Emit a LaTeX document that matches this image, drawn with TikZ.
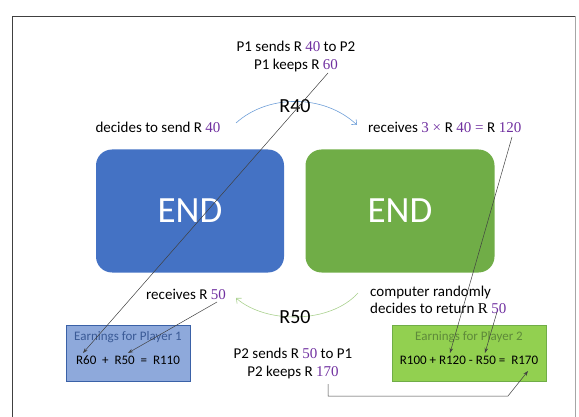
\documentclass[tikz,border=0pt]{standalone}
\usepackage{fontspec}
\setmainfont{Carlito}
\newfontfamily\numfont{Liberation Serif}
\usetikzlibrary{arrows.meta}
\definecolor{numc}{HTML}{7030A0}
\definecolor{bigblue}{HTML}{4472C4}
\definecolor{biggreen}{HTML}{70AD47}
\definecolor{pOnefill}{HTML}{8EA9DB}
\definecolor{pOnetext}{HTML}{3A5A96}
\definecolor{pTwofill}{HTML}{92D050}
\definecolor{pTwotext}{HTML}{5E8A3A}
\definecolor{arcblue}{HTML}{6F9FD8}
\definecolor{arcgreen}{HTML}{A9D18E}
\definecolor{linegray}{HTML}{404040}
\newcommand\nm[1]{{\numfont\color{numc}#1}}
\tikzset{
  txt/.style={inner sep=0pt, font=\fontsize{15}{18}\selectfont, align=center},
  bigbox/.style={rounded corners=16pt, inner sep=0pt, text=white, font=\fontsize{37}{40}\selectfont},
  earnbox/.style={draw, line width=0.6pt, inner sep=0pt},
  earntxt/.style={inner sep=0pt, font=\fontsize{13}{15}\selectfont},
  arclbl/.style={inner sep=0pt, font=\fontsize{20}{22}\selectfont},
  ptr/.style={draw=linegray, line width=0.5pt, -{Stealth[length=5pt,width=3.5pt]}},
  arcarrow/.style={line width=0.6pt, -{Straight Barb[length=4pt,width=7pt]}}
}
\begin{document}
\begin{tikzpicture}[x=1pt,y=-1pt]
\useasboundingbox (0,0) rectangle (579,417);
% frame
\draw[linegray, line width=0.8pt] (12,417) -- (12,16) -- (575,16);
\draw[gray!70, line width=0.8pt] (575,16) -- (575,417);

% big boxes
\node[bigbox, fill=bigblue, minimum width=188pt, minimum height=123pt] (blue) at (190,211) {END};
\node[bigbox, fill=biggreen, minimum width=189pt, minimum height=123pt] (green) at (400,211) {END};

% top text
\node[txt] (p1txt) at (296,57) {P1 sends R \nm{40} to P2\\P1 keeps R \nm{60}};
\node[txt] (dec) at (158,127) {decides to send R \nm{40}};
\node[txt, anchor=west] (rec) at (368,127) {receives \nm{3 × }R \nm{40 = }R \nm{120}};

% blue arc
\coordinate (ba) at (236,123);
\coordinate (bb) at (357,125);
\draw[arcarrow, arcblue] (ba) .. controls (268,94) and (324,94) .. (bb);
\node[arclbl] (r40) at (295,106) {R40};

% bottom middle text
\node[txt] (rec50) at (186,294) {receives R \nm{50}};
\node[txt, anchor=west, align=left, font=\fontsize{15}{17}\selectfont] (comp) at (370,300) {computer randomly\\decides to return {\numfont R} \nm{50}};

% green arc
\coordinate (ga) at (358,293);
\coordinate (gb) at (236,298);
\draw[arcarrow, arcgreen] (ga) .. controls (330,324) and (266,324) .. (gb);
\node[arclbl] (r50) at (295,317) {R50};

% earnings boxes
\node[earnbox, fill=pOnefill, draw=bigblue!85!black, minimum width=124pt, minimum height=56pt] (e1) at (128,353) {};
\node[earntxt, text=pOnetext] (e1t) at (128,337) {Earnings for Player 1};
\node[earntxt] (e1e) at (128,360) {R60~~+~~R50~~=~~R110};

\node[earnbox, fill=pTwofill, draw=biggreen, minimum width=154pt, minimum height=56pt] (e2) at (469,353) {};
\node[earntxt, text=pTwotext] (e2t) at (469,337) {Earnings for Player 2};
\node[earntxt] (e2e) at (469,360) {R100 + R120 - R50 =~ R170};

\node[txt] (p2txt) at (293,364) {P2 sends R \nm{50} to P1\\P2 keeps R \nm{170}};

% pointer lines
\coordinate (s60) at (328,73);
\coordinate (t60) at (83,353);
\coordinate (s50a) at (217,302);
\coordinate (t50a) at (128,353);
\coordinate (s120) at (512,137);
\coordinate (t120) at (450,353);
\coordinate (s50b) at (497,312);
\coordinate (t50b) at (485,353);
\coordinate (s170) at (328,384);
\coordinate (c1) at (328,396);
\coordinate (c2) at (508,396);
\coordinate (t170) at (528,371);
\draw[ptr] (s60) -- (t60);
\draw[ptr] (s50a) -- (t50a);
\draw[ptr] (s120) -- (t120);
\draw[ptr] (s50b) -- (t50b);
\draw[ptr] (s170) -- (c1) -- (c2) -- (t170);
\end{tikzpicture}
\end{document}
